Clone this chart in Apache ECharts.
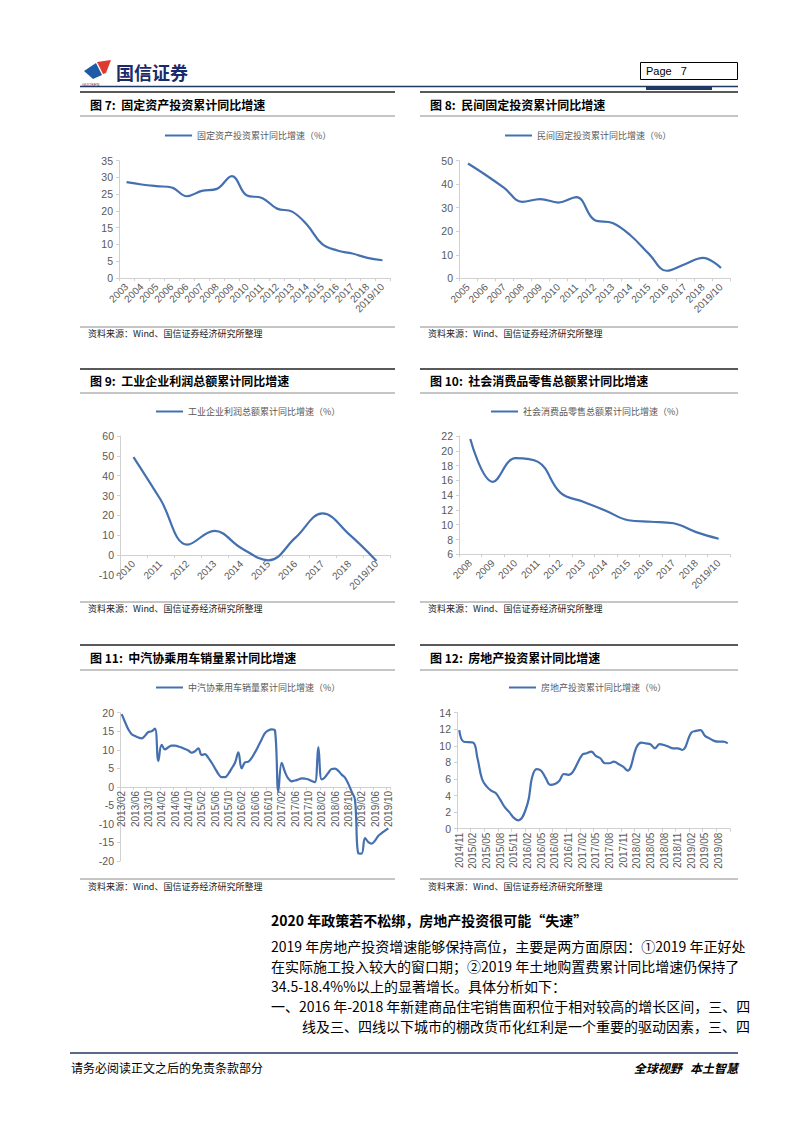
<!DOCTYPE html>
<html><head><meta charset="utf-8">
<script src="https://cdn.jsdelivr.net/npm/echarts@6/dist/echarts.min.js"></script>
<style>html,body{margin:0;padding:0;background:#fff;}#c{width:802px;height:1133px;}</style>
</head><body><div id="c"></div>
<script>
// ---------- DATA ----------
const name7 = '固定资产投资累计同比增速（%）';
const cat7 = ['2003','2004','2005','2006','2006','2007','2008','2009','2010','2011','2012','2013','2014','2015','2016','2017','2018','2019/10'];
const val7 = [28.6, 27.9, 27.4, 27.0, 24.4, 26.0, 26.6, 30.4, 24.6, 23.9, 20.7, 19.8, 15.8, 10.1, 8.2, 7.3, 6.0, 5.3];

const name8 = '民间固定投资累计同比增速（%）';
const cat8 = ['2005','2006','2007','2008','2009','2010','2011','2012','2013','2014','2015','2016','2017','2018','2019/10'];
const val8 = [48.8, 43.8, 38.4, 32.5, 33.7, 32.2, 34.5, 24.8, 23.5, 18.2, 10.5, 3.2, 6.0, 8.7, 4.4];

const name9 = '工业企业利润总额累计同比增速（%）';
const cat9 = ['2010','2011','2012','2013','2014','2015','2016','2017','2018','2019/10'];
const val9 = [49.4, 28.0, 5.3, 12.2, 3.5, -2.6, 8.8, 21.0, 10.3, -2.9];

const name10 = '社会消费品零售总额累计同比增速（%）';
const cat10 = ['2008','2009','2010','2011','2012','2013','2014','2015','2016','2017','2018','2019/10'];
const val10 = [21.6, 15.8, 19.0, 18.5, 14.3, 13.1, 11.9, 10.6, 10.4, 10.2, 9.0, 8.1];

const name11 = '中汽协乘用车销量累计同比增速（%）';
const cat11 = [
 '2013/02','2013/03','2013/04','2013/05','2013/06','2013/07','2013/08','2013/09','2013/10','2013/11','2013/12',
 '2014/01','2014/02','2014/03','2014/04','2014/05','2014/06','2014/07','2014/08','2014/09','2014/10','2014/11','2014/12',
 '2015/01','2015/02','2015/03','2015/04','2015/05','2015/06','2015/07','2015/08','2015/09','2015/10','2015/11','2015/12',
 '2016/01','2016/02','2016/03','2016/04','2016/05','2016/06','2016/07','2016/08','2016/09','2016/10','2016/11','2016/12',
 '2017/01','2017/02','2017/03','2017/04','2017/05','2017/06','2017/07','2017/08','2017/09','2017/10','2017/11','2017/12',
 '2018/01','2018/02','2018/03','2018/04','2018/05','2018/06','2018/07','2018/08','2018/09','2018/10','2018/11','2018/12',
 '2019/01','2019/02','2019/03','2019/04','2019/05','2019/06','2019/07','2019/08','2019/09','2019/10'];
const val11 = [
 19.6, 17.5, 15.5, 14.2, 13.7, 13.3, 13.1, 13.8, 14.8, 15.0, 15.7,
 7.0, 11.3, 10.1, 10.7, 11.1, 11.1, 10.9, 10.6, 10.2, 9.8, 9.2, 9.6,
 10.4, 8.6, 8.8, 7.8, 6.5, 5.0, 3.5, 2.6, 2.6, 3.5, 5.0, 6.5,
 9.3, 5.0, 6.6, 6.8, 7.8, 9.3, 11.0, 12.8, 14.5, 15.2, 15.5, 15.2,
 -1.2, 6.5, 4.0, 2.2, 1.5, 1.7, 2.0, 2.3, 2.2, 2.0, 1.6, 1.3,
 10.7, 2.0, 2.6, 3.8, 4.8, 4.9, 4.3, 3.3, 2.5, 0.8, -1.3, -3.5,
 -17.9, -18.0, -13.8, -14.9, -15.3, -14.5, -13.2, -12.5, -11.8, -11.2];

const name12 = '房地产投资累计同比增速（%）';
const cat12 = [
 '2014/11','2014/12',
 '2015/01','2015/02','2015/03','2015/04','2015/05','2015/06','2015/07','2015/08','2015/09','2015/10','2015/11','2015/12',
 '2016/01','2016/02','2016/03','2016/04','2016/05','2016/06','2016/07','2016/08','2016/09','2016/10','2016/11','2016/12',
 '2017/01','2017/02','2017/03','2017/04','2017/05','2017/06','2017/07','2017/08','2017/09','2017/10','2017/11','2017/12',
 '2018/01','2018/02','2018/03','2018/04','2018/05','2018/06','2018/07','2018/08','2018/09','2018/10','2018/11','2018/12',
 '2019/01','2019/02','2019/03','2019/04','2019/05','2019/06','2019/07','2019/08','2019/09','2019/10'];
const val12 = [
 11.9, 10.5,
 null, 10.4, 8.5, 6.0, 5.1, 4.6, 4.3, 3.5, 2.6, 2.0, 1.3, 1.0,
 null, 3.0, 6.2, 7.2, 7.0, 6.1, 5.3, 5.4, 5.8, 6.6, 6.5, 6.9,
 null, 8.9, 9.1, 9.3, 8.8, 8.5, 7.9, 7.9, 8.1, 7.8, 7.5, 7.0,
 null, 9.9, 10.4, 10.3, 10.2, 9.7, 10.2, 10.1, 9.9, 9.7, 9.7, 9.5,
 null, 11.6, 11.8, 11.9, 11.2, 10.9, 10.6, 10.5, 10.5, 10.3];

const titles = ['图 7:  固定资产投资累计同比增速','图 8:  民间固定投资累计同比增速','图 9:  工业企业利润总额累计同比增速',
                '图 10:  社会消费品零售总额累计同比增速','图 11:  中汽协乘用车销量累计同比增速','图 12:  房地产投资累计同比增速'];
const sourceText = '资料来源：Wind、国信证券经济研究所整理';
const heading = '2020 年政策若不松绑，房地产投资很可能“失速”';
const bodyLines = [
 '2019 年房地产投资增速能够保持高位，主要是两方面原因：①2019 年正好处',
 '在实际施工投入较大的窗口期；②2019 年土地购置费累计同比增速仍保持了',
 '34.5-18.4%%以上的显著增长。具体分析如下：',
 '一、2016 年-2018 年新建商品住宅销售面积位于相对较高的增长区间，三、四',
 '线及三、四线以下城市的棚改货币化红利是一个重要的驱动因素，三、四'];
const footerLeft = '请务必阅读正文之后的免责条款部分';
const footerRight = '全球视野   本土智慧';

// ---------- LAYOUT ----------
const FONT = '"Liberation Sans", Arial, "Noto Sans CJK SC", sans-serif';
const CJK = '"Noto Sans CJK SC", "Liberation Sans", sans-serif';
const LINE = '#4470b0';
const AX = '#d0d0d0';
const LBL = '#595959';

const charts = [
 {name:name7, cat:cat7, val:val7, min:0, max:35, step:5, rot:45, interval:0,
  grid:{left:119, top:160.7, width:271, height:117.3}, legend:[165,131]},
 {name:name8, cat:cat8, val:val8, min:0, max:50, step:10, rot:45, interval:0,
  grid:{left:459, top:160.7, width:271, height:117.6}, legend:[505,131]},
 {name:name9, cat:cat9, val:val9, min:-10, max:60, step:10, rot:45, interval:0,
  grid:{left:120, top:436, width:270, height:139}, legend:[156,407]},
 {name:name10, cat:cat10, val:val10, min:6, max:22, step:2, rot:45, interval:0,
  grid:{left:459, top:436, width:271, height:118.3}, legend:[491,407]},
 {name:name11, cat:cat11, val:val11, min:-20, max:20, step:5, rot:90, interval:3,
  grid:{left:120, top:712.7, width:270, height:148.3}, legend:[156,683]},
 {name:name12, cat:cat12, val:val12, min:0, max:14, step:2, rot:90, interval:2,
  grid:{left:457, top:712.7, width:273, height:116}, legend:[509,683]}
];

const grids = [], xAxes = [], yAxes = [], series = [], legends = [];
charts.forEach((c, i) => {
  grids.push(Object.assign({outerBoundsMode:'none', containLabel:false}, c.grid));
  // place the category axis at value 0 (like the original) via a pixel offset from the grid bottom
  const zeroOffset = c.min < 0 ? -c.grid.height * (0 - c.min) / (c.max - c.min) : 0;
  xAxes.push({type:'category', gridIndex:i, data:c.cat, boundaryGap:true, position:'bottom', offset:zeroOffset,
    axisLine:{onZero:false, lineStyle:{color:AX, width:1}},
    axisTick:{show:true, length:3, interval:c.interval, lineStyle:{color:AX}},
    axisLabel:{rotate:c.rot, interval:c.interval, fontSize:10, color:LBL, fontFamily:FONT, margin:c.rot===90?4:7},
    splitLine:{show:false}});
  yAxes.push({type:'value', gridIndex:i, min:c.min, max:c.max, interval:c.step,
    axisLine:{show:true, lineStyle:{color:AX}},
    axisTick:{show:true, length:3, lineStyle:{color:AX}},
    axisLabel:{fontSize:10.5, color:LBL, fontFamily:FONT, margin:6},
    splitLine:{show:false}});
  series.push({type:'line', name:c.name, xAxisIndex:i, yAxisIndex:i, data:c.val,
    smooth:0.4, symbol:'none', connectNulls:true,
    lineStyle:{color:LINE, width:2.2}, itemStyle:{color:LINE}});
  legends.push({data:[{name:c.name, icon:'rect'}], left:c.legend[0], top:c.legend[1], itemWidth:27, itemHeight:2,
    padding:0, itemStyle:{color:LINE}, textStyle:{fontSize:9, color:LBL, fontFamily:CJK}});
});

// ---------- GRAPHICS (page frame & text) ----------
const g = [];
function line(x1,y1,x2,y2,color,w){ g.push({type:'line', silent:true, shape:{x1,y1,x2,y2}, style:{stroke:color, lineWidth:w}}); }
function text(str,x,y,size,opts){ opts = opts||{};
  g.push({type:'text', silent:true, x:x, y:y, style:{text:str, fontSize:size, fontFamily:opts.family||CJK,
    fontWeight:opts.weight||'normal', fontStyle:opts.style||'normal', fill:opts.color||'#000',
    align:opts.align||'left', verticalAlign:'middle', textAlign:opts.align||'left', textVerticalAlign:'middle'}}); }

// header
g.push({type:'polygon', silent:true, shape:{points:[[84,71],[96,63],[102,75],[93,79]]}, style:{fill:'#1f5aa6'}});
g.push({type:'polygon', silent:true, shape:{points:[[97,62],[111,60],[106,73],[103,74]]}, style:{fill:'#e03a2f'}});
text('国信证券', 116, 72, 18, {weight:'bold', color:'#1b2a6b'});
text('GUOSEN', 82, 84, 4, {family:FONT, color:'#7a2020'});
g.push({type:'rect', silent:true, shape:{x:640.5, y:62.5, width:97, height:17}, style:{fill:'none', stroke:'#000', lineWidth:1}});
text('Page   7', 646, 71, 11, {family:FONT});
line(80, 86.5, 738, 86.5, '#1f3864', 1.5);
line(646, 88.5, 712, 88.5, '#1f3864', 3);

// panels
const rows = [ {top:92, title:104, under:116, src:327, srcT:333},
               {top:369, title:380, under:393, src:602, srcT:608},
               {top:645, title:657, under:670, src:879, srcT:886} ];
const cols = [ {x1:80, x2:395, tx:90, sx:88}, {x1:420, x2:738, tx:430, sx:428} ];
rows.forEach((r, ri) => cols.forEach((c, ci) => {
  line(c.x1, r.top, c.x2, r.top, '#595959', 2);
  line(c.x1, r.under, c.x2, r.under, '#8c8c8c', 1);
  line(c.x1, r.src, c.x2, r.src, '#8c8c8c', 1);
  text(titles[ri*2+ci], c.tx, r.title, 12, {weight:'bold'});
  text(sourceText, c.sx, r.srcT, 9, {color:'#222'});
}));

// body text
text(heading, 271, 920, 14, {weight:'bold'});
bodyLines.forEach((s, i) => text(s, i===4 ? 302 : 271, 946 + i*20, 14));

// footer
line(70, 1053, 738, 1053, '#1f3864', 1.5);
text(footerLeft, 71, 1067, 12);
text(footerRight, 738, 1067, 12, {weight:'bold', style:'italic', align:'right'});

const chart = echarts.init(document.getElementById('c'), null, {renderer:'svg', width:802, height:1133});
chart.setOption({
  animation:false, backgroundColor:'#fff',
  grid:grids, xAxis:xAxes, yAxis:yAxes, series:series, legend:legends, graphic:g
});
</script></body></html>
